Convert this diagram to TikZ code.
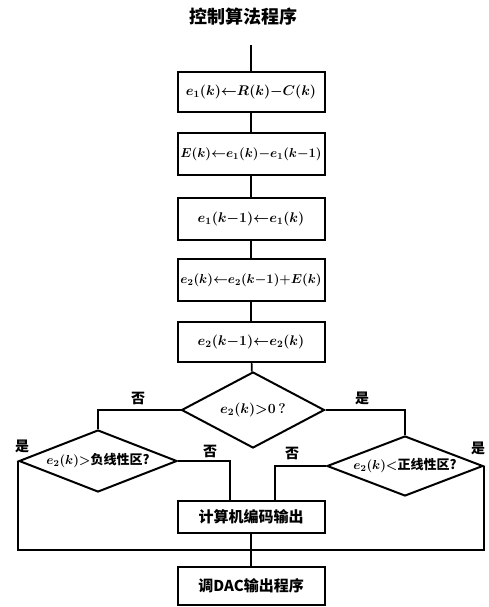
\documentclass[tikz,border=0pt]{standalone}
\usepackage{fix-cm}
\usepackage{fontspec}
\newfontfamily\cjk{Noto Sans CJK SC}
\usetikzlibrary{shapes.geometric}
\begin{document}
\begin{tikzpicture}[x=1pt,y=-1pt,
  conn/.style={line width=1.7pt},
  box/.style={draw, line width=2pt, minimum width=147pt, minimum height=40pt, inner sep=0pt, font=\fontsize{14}{16}\selectfont\boldmath},
  smallbox/.style={box, font=\fontsize{13}{15}\selectfont\boldmath},
  dia/.style={draw, diamond, line width=2pt, inner sep=0pt},
  lab/.style={font=\cjk\bfseries\fontsize{14}{16}\selectfont, inner sep=1pt},
  dtext/.style={font=\cjk\bfseries\fontsize{13}{15}\selectfont\boldmath}]
\useasboundingbox (0,0) rectangle (489,607);
\node[font=\cjk\bfseries\fontsize{18}{20}\selectfont] (title) at (243,17) {控制算法程序};
\node[box] (b1) at (251,92) {$e_1(k){\leftarrow}R(k){-}C(k)$};
\node[smallbox, minimum height=42pt] (b2) at (251,154) {$E(k){\leftarrow}e_1(k){-}e_1(k{-}1)$};
\node[box, minimum height=42pt] (b3) at (251,219) {$e_1(k{-}1){\leftarrow}e_1(k)$};
\node[smallbox, minimum height=42pt] (b4) at (251,280) {$e_2(k){\leftarrow}e_2(k{-}1){+}E(k)$};
\node[box] (b5) at (251,342) {$e_2(k{-}1){\leftarrow}e_2(k)$};
\node[dia, minimum width=143pt, minimum height=76pt,
  label={[font=\fontsize{14}{16}\selectfont\boldmath]center:$e_2(k){>}0\,?$}] (d1) at (253,410) {};
\node[dia, minimum width=158pt, minimum height=62pt,
  label={[dtext]center:$e_2(k){>}$负线性区?}] (d2) at (98,461) {};
\node[dia, minimum width=156pt, minimum height=60pt,
  label={[dtext]center:$e_2(k){<}$正线性区?}] (d3) at (405,466) {};
\node[box, minimum height=32pt, font=\cjk\bfseries\fontsize{15}{17}\selectfont] (b6) at (251,517) {计算机编码输出};
\node[box, minimum height=38pt, font=\cjk\bfseries\fontsize{15}{17}\selectfont] (b7) at (251,586) {调DAC输出程序};
\coordinate (j) at (251,550);
\coordinate (top) at (251,45);
\draw[conn] (top) -- (b1);
\draw[conn] (b1) -- (b2);
\draw[conn] (b2) -- (b3);
\draw[conn] (b3) -- (b4);
\draw[conn] (b4) -- (b5);
\draw[conn] (b5) -- (d1);
\draw[conn] (d1.west) -| (d2.north);
\draw[conn] (d1.east) -| (d3.north);
\draw[conn] (d2.east) -| ([xshift=-21pt]b6.north);
\draw[conn] (d3.west) -| ([xshift=24pt]b6.north);
\draw[conn] (d2.west) |- (j);
\draw[conn] (d3.east) |- (j);
\draw[conn] (b6) -- (b7);
\node[lab] (n1) at (138,398) {否};
\node[lab] (y1) at (362,398) {是};
\node[lab] (y2) at (22,446) {是};
\node[lab] (n2) at (210,451) {否};
\node[lab] (n3) at (292,453) {否};
\node[lab] (y3) at (478,448) {是};
\end{tikzpicture}
\end{document}
